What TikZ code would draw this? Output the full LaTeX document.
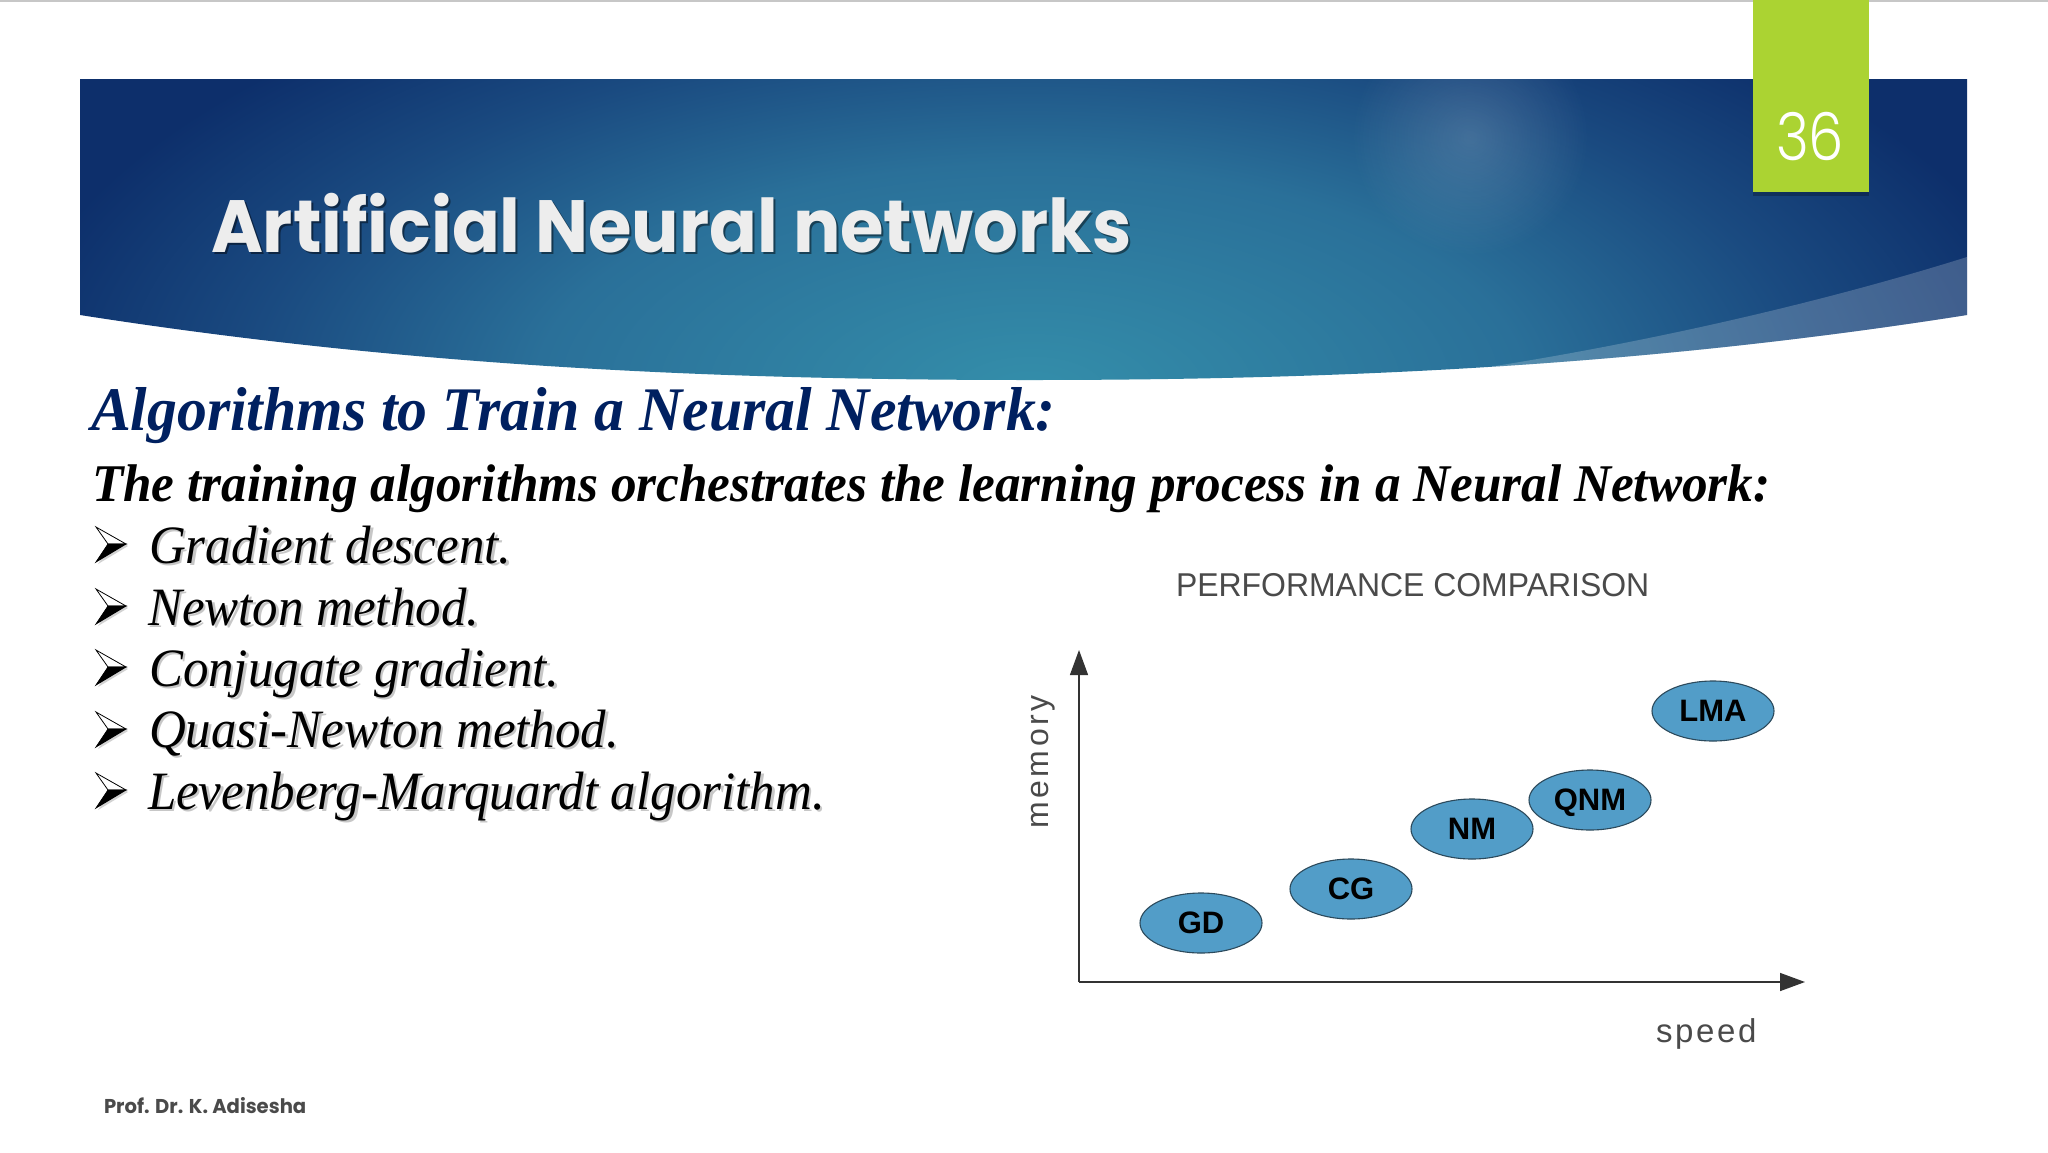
\documentclass[tikz,border=0pt]{standalone}
\usepackage{fontspec}
\usepackage{graphicx}
\setmainfont{Liberation Serif}
\setsansfont{Liberation Sans}
\newfontfamily\titlefont{Poppins}
\newfontfamily\numfont{Poppins Light}
\usetikzlibrary{fadings,arrows.meta,shapes.geometric}
\definecolor{bnDark}{HTML}{0D2F6B}
\definecolor{bnMid}{HTML}{1A4A80}
\definecolor{bnTeal}{HTML}{2A7099}
\definecolor{bnGlow}{HTML}{348EAA}
\definecolor{headBlue}{HTML}{002060}
\definecolor{greenTag}{HTML}{ABD332}
\definecolor{ellFill}{HTML}{529DC8}
\definecolor{ellLine}{HTML}{2C4A5C}
\definecolor{axisGrey}{HTML}{333333}
\definecolor{chartText}{HTML}{4A4A4A}
\pgfdeclareradialshading{bannerglow}{\pgfpoint{0bp}{0bp}}{%
  color(0bp)=(bnGlow); color(12bp)=(bnTeal); color(19bp)=(bnMid); color(25bp)=(bnDark); color(50bp)=(bnDark)}
\tikzfading[name=softglow,inner color=transparent!84,outer color=transparent!100]
\tikzset{
  txt/.style={anchor=base west,inner sep=0pt,outer sep=0pt},
  algoell/.style={ellipse,draw=ellLine,line width=1.1pt,fill=ellFill,minimum width=122pt,minimum height=60pt,inner sep=0pt,text depth=0pt,
    font=\sffamily\bfseries\fontsize{31}{33}\selectfont,text=black},
  axisline/.style={draw=axisGrey,line width=1.5pt,-{Triangle[length=25pt,width=18pt]}},
}
\newcommand{\arrowbullet}[1]{%
  \fill[black!35,opacity=.5] (98,#1-15) -- (128,#1+2) -- (98,#1+20) -- (110,#1+2) -- cycle;
  \fill[white,draw=black,line width=.8pt] (96,#1-17) -- (126,#1) -- (108,#1) -- cycle;
  \fill[black,draw=black,line width=.8pt] (96,#1+18) -- (126,#1) -- (108,#1) -- cycle;
}
\newcommand{\bulletfont}{\itshape\fontsize{54}{56}\selectfont}
\newcommand{\bullettext}[4]{%
  \node[txt,text=black,opacity=.22,font=\bulletfont] (#1s) at (#2+2.5,#3+2.5) {\scalebox{.944}[1]{#4}};
  \node[txt,font=\bulletfont] (#1) at (#2,#3) {\scalebox{.944}[1]{#4}};
}
\begin{document}
\begin{tikzpicture}[x=1pt,y=-1pt]
\useasboundingbox (0,0) rectangle (2048,1152);
\fill[white] (0,0) rectangle (2048,1152);
\fill[black!22] (0,0) rectangle (2048,2);
% banner
\begin{scope}
  \clip (80,79) -- (1967,79) -- (1967,315) .. controls (1650,365) and (1350,380) .. (1030,380)
        .. controls (700,380) and (400,365) .. (80,315) -- cycle;
  \shade[shading=bannerglow] (0,-80) rectangle (2060,860);
  \fill[white,path fading=softglow] (1470,137) circle (120);
  \fill[white,opacity=.20] (1489,367) .. controls (1660,340) and (1830,300) .. (1967,257) -- (1967,400) -- (1489,400) -- cycle;
\end{scope}
% green tag
\fill[black,opacity=.25] (1753,192) rectangle (1869,196);
\fill[greenTag] (1753,0) rectangle (1869,192);
\node[txt,text=white,font=\numfont\fontsize{66}{68}\selectfont] (num) at (1776,160) {\scalebox{.85}[1]{36}};
% title
\node[txt,text=black,opacity=.45,font=\titlefont\bfseries\fontsize{74}{76}\selectfont] (titleS) at (213,254) {\scalebox{.952}[1]{Artificial Neural networks}};
\node[txt,text=white!93!black,font=\titlefont\bfseries\fontsize{74}{76}\selectfont] (title) at (211,252) {\scalebox{.952}[1]{Artificial Neural networks}};
% headings
\node[txt,text=headBlue,font=\bfseries\itshape\fontsize{62}{64}\selectfont] (head) at (91,430) {\scalebox{.963}[1]{Algorithms to Train a Neural Network:}};
\node[txt,text=black,font=\bfseries\itshape\fontsize{53}{55}\selectfont] (sub) at (92,501) {\scalebox{.966}[1]{The training algorithms orchestrates the learning process in a Neural Network:}};
% bullets
\arrowbullet{544}\arrowbullet{606}\arrowbullet{667}\arrowbullet{729}\arrowbullet{790}
\bullettext{b1}{149}{563}{Gradient descent.}
\bullettext{b2}{148}{625}{Newton method.}
\bullettext{b3}{149}{686}{Conjugate gradient.}
\bullettext{b4}{149}{747}{Quasi-Newton method.}
\bullettext{b5}{148}{809}{Levenberg-Marquardt algorithm.}
% chart
\node[txt,text=chartText,font=\sffamily\fontsize{33}{35}\selectfont] (ctitle) at (1176,596) {\scalebox{.968}[1]{PERFORMANCE COMPARISON}};
\coordinate (origin) at (1079,982);
\coordinate (xtip) at (1805,982);
\coordinate (ytip) at (1079,650);
\draw[axisline] (origin) -- (xtip);
\draw[axisline,line width=1.2pt] (origin) -- (ytip);
\node[algoell] (GD) at (1201,923) {GD};
\node[algoell] (CG) at (1351,889) {CG};
\node[algoell] (NM) at (1472,829) {NM};
\node[algoell] (QNM) at (1590,800) {QNM};
\node[algoell] (LMA) at (1713,711) {LMA};
\node[text=chartText,rotate=90,inner sep=0pt,font=\sffamily\fontsize{32}{34}\selectfont\addfontfeature{LetterSpace=11}] (ylab) at (1043,762) {memory};
\node[txt,text=chartText,font=\sffamily\fontsize{33}{35}\selectfont\addfontfeature{LetterSpace=8}] (xlab) at (1656,1042) {speed};
% footer
\node[txt,text=chartText,font=\titlefont\bfseries\fontsize{20}{22}\selectfont] (foot) at (104,1113) {\scalebox{.98}[1]{Prof. Dr. K. Adisesha}};
\end{tikzpicture}
\end{document}
